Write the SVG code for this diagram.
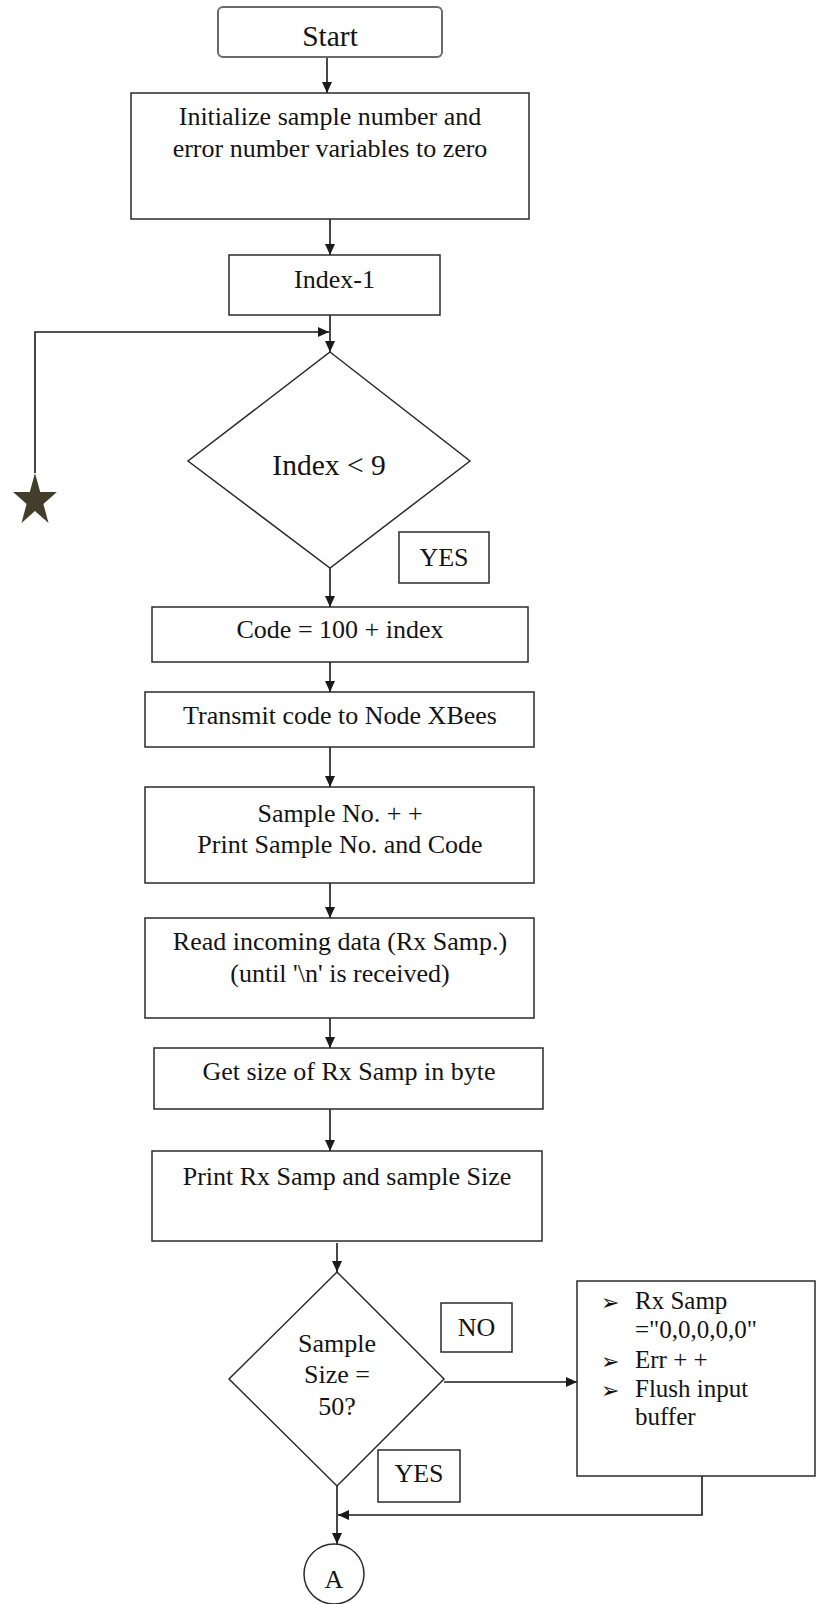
<svg xmlns="http://www.w3.org/2000/svg" width="817" height="1604" viewBox="0 0 817 1604">
  <style>
    .box { fill: #ffffff; stroke: #2b2b2b; stroke-width: 1.5; }
    .term { fill: #ffffff; stroke: #6a6a6a; stroke-width: 2; }
    .edge { fill: none; stroke: #1a1a1a; stroke-width: 1.6; }
    .t { font-family: "Liberation Serif", "Times New Roman", serif; font-size: 26px; fill: #141414; text-anchor: middle; }
    .big { font-size: 29.5px; }
    .li { font-family: "Liberation Serif", "Times New Roman", serif; font-size: 25px; fill: #141414; }
    .bul { font-family: "DejaVu Sans", sans-serif; font-size: 22px; fill: #141414; }
  </style>
  <defs>
    <marker id="arrow" markerUnits="userSpaceOnUse" markerWidth="11" markerHeight="10" refX="11" refY="5" orient="auto">
      <path d="M0,0 L11,5 L0,10 z" fill="#1a1a1a"/>
    </marker>
  </defs>
  <rect width="817" height="1604" fill="#ffffff"/>

  <!-- connectors -->
  <g id="connectors">
    <line class="edge" x1="327" y1="57" x2="327" y2="93" marker-end="url(#arrow)"/>
    <line class="edge" x1="330" y1="219" x2="330" y2="255" marker-end="url(#arrow)"/>
    <line class="edge" x1="330" y1="315" x2="330" y2="352" marker-end="url(#arrow)"/>
    <polyline class="edge" points="35,473 35,332 329,332" marker-end="url(#arrow)"/>
    <line class="edge" x1="330" y1="568" x2="330" y2="607" marker-end="url(#arrow)"/>
    <line class="edge" x1="330" y1="662" x2="330" y2="692" marker-end="url(#arrow)"/>
    <line class="edge" x1="330" y1="747" x2="330" y2="787" marker-end="url(#arrow)"/>
    <line class="edge" x1="330" y1="883" x2="330" y2="918" marker-end="url(#arrow)"/>
    <line class="edge" x1="330" y1="1018" x2="330" y2="1048" marker-end="url(#arrow)"/>
    <line class="edge" x1="330" y1="1109" x2="330" y2="1151" marker-end="url(#arrow)"/>
    <line class="edge" x1="337" y1="1243" x2="337" y2="1272" marker-end="url(#arrow)"/>
    <line class="edge" x1="444" y1="1382" x2="577" y2="1382" marker-end="url(#arrow)"/>
    <polyline class="edge" points="702,1476 702,1515 338,1515" marker-end="url(#arrow)"/>
    <line class="edge" x1="337" y1="1486" x2="337" y2="1544" marker-end="url(#arrow)"/>
  </g>

  <g id="start">
    <rect class="term" x="218" y="7" width="224" height="50" rx="5"/>
    <text class="t big" x="330" y="46">Start</text>
  </g>

  <g id="init">
    <rect class="box" x="131" y="93" width="398" height="126"/>
    <text class="t" x="330" y="125">Initialize sample number and</text>
    <text class="t" x="330" y="157">error number variables to zero</text>
  </g>

  <g id="index-init">
    <rect class="box" x="229" y="255" width="211" height="60"/>
    <text class="t" x="334.5" y="288">Index-1</text>
  </g>

  <g id="loop-marker">
    <polygon fill="#433d2c" points="35,473 40.2,492.1 56.9,492.1 43.4,503.9 48.5,522.9 35,511.1 21.5,522.9 26.6,503.9 13.1,492.1 29.8,492.1"/>
  </g>

  <g id="index-check">
    <polygon class="box" points="330,352 470,461 330,568 188,461"/>
    <text class="t big" x="329" y="475">Index &lt; 9</text>
  </g>

  <g id="yes-label-1">
    <rect class="box" x="399" y="532" width="90" height="51"/>
    <text class="t" x="444" y="566">YES</text>
  </g>

  <g id="code">
    <rect class="box" x="152" y="607" width="376" height="55"/>
    <text class="t" x="340" y="638">Code = 100 + index</text>
  </g>

  <g id="transmit">
    <rect class="box" x="145" y="692" width="389" height="55"/>
    <text class="t" x="340" y="724">Transmit code to Node XBees</text>
  </g>

  <g id="sample-count">
    <rect class="box" x="145" y="787" width="389" height="96"/>
    <text class="t" x="340" y="822">Sample No. + +</text>
    <text class="t" x="340" y="853">Print Sample No. and Code</text>
  </g>

  <g id="read-data">
    <rect class="box" x="145" y="918" width="389" height="100"/>
    <text class="t" x="340" y="950">Read incoming data (Rx Samp.)</text>
    <text class="t" x="340" y="982">(until '\n' is received)</text>
  </g>

  <g id="get-size">
    <rect class="box" x="154" y="1048" width="389" height="61"/>
    <text class="t" x="349" y="1080">Get size of Rx Samp in byte</text>
  </g>

  <g id="print-size">
    <rect class="box" x="152" y="1151" width="390" height="90"/>
    <text class="t" x="347" y="1185">Print Rx Samp and sample Size</text>
  </g>

  <g id="size-check">
    <polygon class="box" points="337,1272 444,1379 337,1486 229,1379"/>
    <text class="t" x="337" y="1352">Sample</text>
    <text class="t" x="337" y="1383">Size =</text>
    <text class="t" x="337" y="1415">50?</text>
  </g>

  <g id="no-label">
    <rect class="box" x="441" y="1303" width="71" height="49"/>
    <text class="t" x="476.5" y="1336">NO</text>
  </g>

  <g id="yes-label-2">
    <rect class="box" x="378" y="1450" width="82" height="52"/>
    <text class="t" x="419" y="1482">YES</text>
  </g>

  <g id="error-handler">
    <rect class="box" x="577" y="1281" width="238" height="195"/>
    <text class="bul" x="601" y="1310">➢</text>
    <text class="li" x="635" y="1309">Rx Samp</text>
    <text class="li" x="635" y="1338">="0,0,0,0,0"</text>
    <text class="bul" x="601" y="1369">➢</text>
    <text class="li" x="635" y="1368">Err + +</text>
    <text class="bul" x="601" y="1398">➢</text>
    <text class="li" x="635" y="1397">Flush input</text>
    <text class="li" x="635" y="1425">buffer</text>
  </g>

  <g id="connector-a">
    <circle class="box" cx="334" cy="1574" r="30"/>
    <text class="t" x="334" y="1588">A</text>
  </g>
</svg>
